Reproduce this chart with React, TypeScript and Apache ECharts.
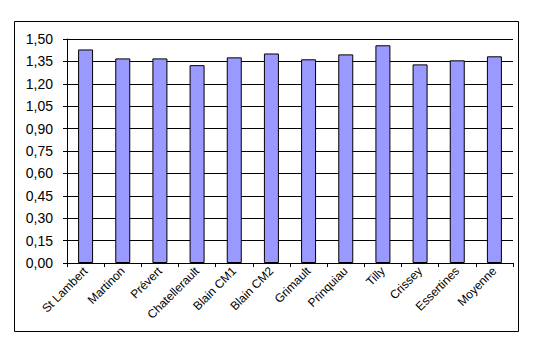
import React, { useEffect, useRef } from "react";
import * as echarts from "echarts";

const categories = [
  "St Lambert",
  "Martinon",
  "Prévert",
  "Chatellerault",
  "Blain CM1",
  "Blain CM2",
  "Grimault",
  "Prinquiau",
  "Tilly",
  "Crissey",
  "Essertines",
  "Moyenne",
];

const values = [1.43, 1.37, 1.37, 1.325, 1.377, 1.403, 1.364, 1.397, 1.458, 1.33, 1.357, 1.384];

const yMin = 0;
const yMax = 1.5;
const yStep = 0.15;

export default function App() {
  const ref = useRef<HTMLDivElement>(null);

  useEffect(() => {
    if (!ref.current) return;
    const chart = echarts.init(ref.current, null, { renderer: "svg" });
    chart.setOption({
      animation: false,
      backgroundColor: "#ffffff",
      graphic: [
        {
          type: "rect",
          shape: { x: 14.5, y: 21.5, width: 504, height: 310 },
          style: { fill: "none", stroke: "#000000", lineWidth: 1 },
          silent: true,
        },
      ],
      grid: { left: 67, top: 39, right: 22, bottom: 98, containLabel: false },
      xAxis: {
        type: "category",
        data: categories,
        boundaryGap: true,
        axisLine: { show: true, lineStyle: { color: "#000", width: 1 } },
        axisTick: { show: true, length: 4, lineStyle: { color: "#000" }, alignWithLabel: false },
        axisLabel: {
          rotate: 45,
          interval: 0,
          margin: 6,
          fontFamily: "Liberation Sans, Arial, sans-serif",
          fontSize: 12,
          color: "#000",
        },
      },
      yAxis: {
        type: "value",
        min: yMin,
        max: yMax,
        interval: yStep,
        axisLine: { show: true, lineStyle: { color: "#000", width: 1 } },
        axisTick: { show: true, length: 4, lineStyle: { color: "#000" } },
        splitLine: { show: true, lineStyle: { color: "#000", width: 1 } },
        axisLabel: {
          margin: 14,
          fontFamily: "Liberation Sans, Arial, sans-serif",
          fontSize: 14,
          color: "#000",
          formatter: (v: number) => v.toFixed(2).replace(".", ","),
        },
      },
      series: [
        {
          type: "bar",
          data: values,
          barWidth: 15,
          itemStyle: { color: "#9999FF", borderColor: "#000", borderWidth: 1 },
        },
      ],
    });
    return () => chart.dispose();
  }, []);

  return (
    <div
      ref={ref}
      style={{ position: "fixed", left: 0, top: 0, width: 535, height: 361 }}
    />
  );
}
